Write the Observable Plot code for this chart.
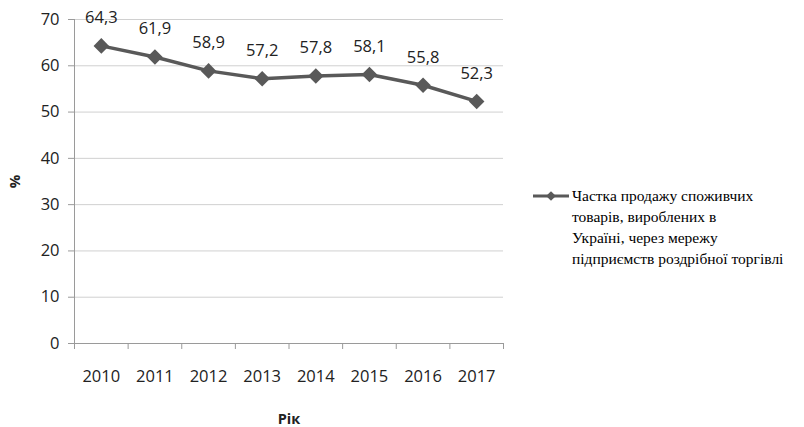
<!DOCTYPE html>
<html>
<head>
<meta charset="utf-8">
<script src="https://cdn.jsdelivr.net/npm/d3@7"></script>
<script src="https://cdn.jsdelivr.net/npm/@observablehq/plot@0.6"></script>
<style>
  html, body { margin: 0; padding: 0; background: #fff; }
  #wrap { position: relative; width: 804px; height: 427px; overflow: hidden; }
  #legend { position: absolute; left: 533px; top: 185px; display: flex; align-items: flex-start;
    font-family: "Liberation Serif", serif; font-size: 15.5px; line-height: 21px; color: #000; }
  #legend svg { flex: none; margin-top: 4px; }
</style>
</head>
<body>
<div id="wrap">
  <div id="chart"></div>
  <div id="legend"></div>
</div>
<script>
const years = [2010, 2011, 2012, 2013, 2014, 2015, 2016, 2017];
const values = [64.3, 61.9, 58.9, 57.2, 57.8, 58.1, 55.8, 52.3];
const yTicks = [0, 10, 20, 30, 40, 50, 60, 70];
const seriesName = ["Частка продажу споживчих", "товарів, вироблених в", "Україні, через мережу", "підприємств роздрібної торгівлі"];
const xTitle = "Рік";
const yTitle = "%";

const data = years.map((y, i) => ({year: y, value: values[i]}));
const bounds = [...years.map(y => y - 0.5), years[years.length - 1] + 0.5];
const fmt = v => v.toFixed(1).replace(".", ",");
const lineColor = "#595959";
const font = "'Open Sans', sans-serif";

const chart = Plot.plot({
  width: 804,
  height: 427,
  marginLeft: 74,
  marginRight: 301,
  marginTop: 19,
  marginBottom: 84,
  style: {fontFamily: font, fontSize: "16.5px", color: "#222", background: "#fff"},
  x: {type: "linear", domain: [bounds[0], bounds[bounds.length - 1]]},
  y: {domain: [0, 70]},
  marks: [
    Plot.gridY(yTicks, {stroke: "#d0d0d0", strokeOpacity: 1, strokeWidth: 1}),
    Plot.ruleY([0], {stroke: "#9a9a9a"}),
    Plot.ruleX([bounds[0]], {stroke: "#9a9a9a"}),
    Plot.axisY({ticks: yTicks, tickSize: 6, tickPadding: 9, stroke: "#9a9a9a", label: null, fontSize: 16.5, fill: "#222"}),
    Plot.axisX({ticks: bounds, tickSize: 6, tickFormat: () => "", stroke: "#9a9a9a", label: null}),
    Plot.axisX({ticks: years, tickSize: 0, tickPadding: 27, tickFormat: d => String(d), label: null, fontSize: 16.5, fill: "#222"}),
    Plot.line(data, {x: "year", y: "value", stroke: lineColor, strokeWidth: 3.5}),
    Plot.dot(data, {x: "year", y: "value", symbol: "diamond2", r: 7, fill: lineColor, stroke: lineColor, strokeWidth: 0}),
    Plot.text(data, {x: "year", y: "value", text: d => fmt(d.value), dy: -28, fontSize: 16.5, fill: "#222"}),
    Plot.text([xTitle], {x: (bounds[0] + bounds[bounds.length-1]) / 2, y: 0, dy: 76, text: d => d, fontWeight: "bold", fontSize: 14.5, fill: "#222"}),
    Plot.text([yTitle], {x: bounds[0], y: 35, dx: -59, rotate: -90, text: d => d, fontWeight: "bold", fontSize: 15, fill: "#222"})
  ]
});
document.getElementById("chart").appendChild(chart);

const legend = document.getElementById("legend");
const sw = d3.create("svg").attr("width", 39).attr("height", 14);
sw.append("line").attr("x1", 0).attr("x2", 36).attr("y1", 7).attr("y2", 7).attr("stroke", lineColor).attr("stroke-width", 3);
sw.append("path").attr("d", d3.symbol(d3.symbolDiamond2, 60)()).attr("transform", "translate(18,7)").attr("fill", lineColor);
legend.appendChild(sw.node());
const txt = document.createElement("div");
txt.innerHTML = seriesName.join("<br>");
legend.appendChild(txt);
</script>
</body>
</html>
